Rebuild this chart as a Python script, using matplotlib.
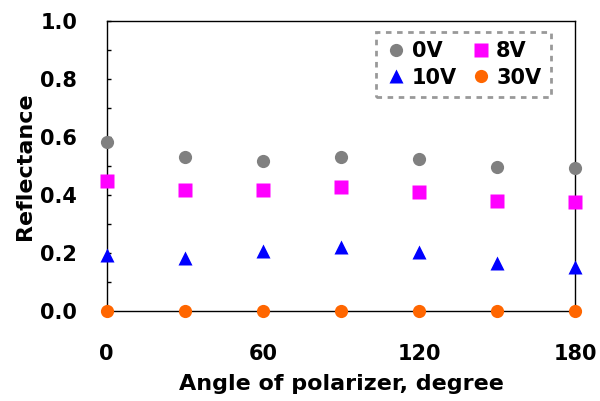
import matplotlib.pyplot as plt
from matplotlib.ticker import MultipleLocator

plt.rcParams['font.family'] = ['DejaVu Sans']
plt.rcParams['font.weight'] = 'bold'

angles = [0, 30, 60, 90, 120, 150, 180]
r_0v = [0.582, 0.531, 0.517, 0.531, 0.524, 0.498, 0.493]
r_8v = [0.449, 0.418, 0.416, 0.427, 0.409, 0.379, 0.375]
r_10v = [0.193, 0.184, 0.208, 0.222, 0.202, 0.167, 0.153]
r_30v = [0.0, 0.0, 0.0, 0.0, 0.0, 0.0, 0.0]

fig = plt.figure(figsize=(6, 4.01), dpi=100)
ax = fig.add_axes([0.1775, 0.2244, 0.7815, 0.7232])

p0, = ax.plot(angles, r_0v, 'o', color='#808080', ms=9.5, mec='none', label='0V', clip_on=False, zorder=3)
p8, = ax.plot(angles, r_8v, 's', color='#ff00ff', ms=9.5, mec='none', label='8V', clip_on=False, zorder=3)
p10, = ax.plot(angles, r_10v, '^', color='#0000ff', ms=10, mec='none', label='10V', clip_on=False, zorder=3)
p30, = ax.plot(angles, r_30v, 'o', color='#ff6600', ms=9.5, mec='none', label='30V', clip_on=False, zorder=3)

ax.set_xlim(0, 180)
ax.set_ylim(0, 1.0)
ax.xaxis.set_major_locator(MultipleLocator(60))
ax.yaxis.set_major_locator(MultipleLocator(0.2))
ax.yaxis.set_minor_locator(MultipleLocator(0.1))
ax.yaxis.set_major_formatter(plt.FormatStrFormatter('%.1f'))
ax.tick_params(axis='both', which='both', direction='in', length=3, width=1,
               labelsize=15)
ax.tick_params(axis='y', pad=21)
ax.tick_params(axis='x', pad=24)
for s in ax.spines.values():
    s.set_linewidth(1)

ax.set_xlabel('Angle of polarizer, degree', fontsize=16, fontweight='bold', labelpad=7)
ax.set_ylabel('Reflectance', fontsize=16, fontweight='bold', labelpad=4)

# legend filled column-wise: 0V/10V in the first column, 8V/30V in the second
leg = ax.legend([p0, p10, p8, p30], ['0V', '10V', '8V', '30V'], ncol=2,
                loc='upper left', bbox_to_anchor=(0.575, 0.962),
                fontsize=15, frameon=True, fancybox=False,
                handletextpad=0.25, columnspacing=0.65, borderpad=0.45,
                labelspacing=0.3, handlelength=1.0, borderaxespad=0)
frame = leg.get_frame()
frame.set_edgecolor('#808080')
frame.set_linestyle((0, (2, 2)))
frame.set_linewidth(2)

fig.savefig('out.png', dpi=100)
